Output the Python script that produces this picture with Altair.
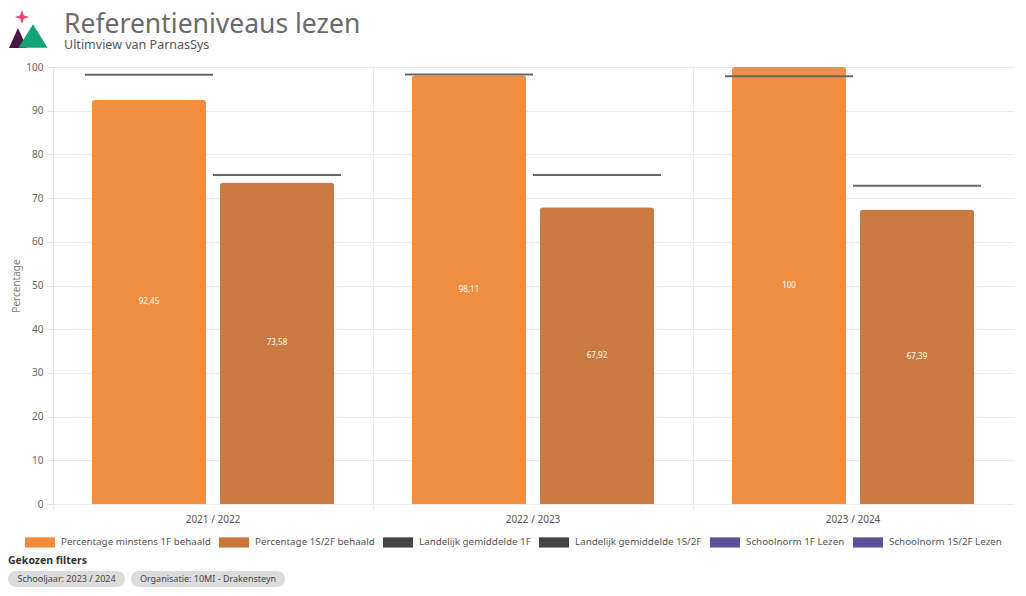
import altair as alt
import pandas as pd

# ---- data ----
years = ["2021 / 2022", "2022 / 2023", "2023 / 2024"]
pct_1f = [92.45, 98.11, 100.0]
pct_2f = [73.58, 67.92, 67.39]
landelijk_1f = [98.2, 98.3, 97.9]
landelijk_2f = [75.3, 75.3, 72.8]

series = [
    "Percentage minstens 1F behaald",
    "Percentage 1S/2F behaald",
    "Landelijk gemiddelde 1F",
    "Landelijk gemiddelde 1S/2F",
    "Schoolnorm 1F Lezen",
    "Schoolnorm 1S/2F Lezen",
]
colors = ["#F28A3C", "#C8763A", "#444444", "#444444", "#5D4F9C", "#5D4F9C"]
subs = ["1F", "2F"]

bars = pd.DataFrame(
    [{"jaar": y, "sub": "1F", "serie": series[0], "waarde": v} for y, v in zip(years, pct_1f)]
    + [{"jaar": y, "sub": "2F", "serie": series[1], "waarde": v} for y, v in zip(years, pct_2f)]
)
lines = pd.DataFrame(
    [{"jaar": y, "sub": "1F", "serie": series[2], "waarde": v} for y, v in zip(years, landelijk_1f)]
    + [{"jaar": y, "sub": "2F", "serie": series[3], "waarde": v} for y, v in zip(years, landelijk_2f)]
)

FONT = "Noto Sans"
W, H = 960, 437
SUB_STEP = W / 3 / 2.5  # width of one sub-band (for the average lines)

xenc = alt.X(
    "jaar:N",
    sort=years,
    scale=alt.Scale(paddingInner=0, paddingOuter=0),
    axis=alt.Axis(
        title=None,
        labelAngle=0,
        labelFontSize=10,
        labelColor="#555555",
        labelFont=FONT,
        labelPadding=4,
        grid=True,
        bandPosition=0,
        gridColor="#ebebeb",
        ticks=True,
        tickColor="#ebebeb",
        tickSize=6,
        domain=False,
    ),
)
xoff = alt.XOffset(
    "sub:N", sort=subs,
    scale=alt.Scale(domain=subs, paddingInner=0.109, paddingOuter=0.3045),
)
yenc = alt.Y(
    "waarde:Q",
    scale=alt.Scale(domain=[0, 100], nice=False),
    axis=alt.Axis(
        title="Percentage",
        titleFont=FONT,
        titleFontSize=10,
        titleFontWeight="normal",
        titleColor="#808080",
        titlePadding=4,
        values=list(range(0, 101, 10)),
        labelFontSize=10,
        labelFont=FONT,
        labelColor="#666666",
        labelPadding=4,
        gridColor="#ebebeb",
        domainColor="#e3e3e3",
        tickColor="#e3e3e3",
        tickSize=6,
    ),
)

bar_layer = alt.Chart(bars).mark_bar(
    cornerRadiusTopLeft=3, cornerRadiusTopRight=3, opacity=0.97,
).encode(
    x=xenc,
    xOffset=xoff,
    y=yenc,
    color=alt.Color(
        "serie:N",
        scale=alt.Scale(domain=series, range=colors),
        legend=alt.Legend(
            title=None,
            orient="none",
            legendX=-28,
            legendY=460,
            direction="horizontal",
            symbolType="M-1,-0.34H1V0.34H-1Z",
            symbolSize=900,
            symbolStrokeWidth=0,
            symbolOpacity=1,
            labelFont=FONT,
            labelFontSize=9.8,
            labelColor="#555555",
            labelLimit=400,
            labelOffset=6,
            columnPadding=8,
        ),
    ),
)

text_layer = alt.Chart(bars).transform_calculate(
    mid="datum.waarde / 2",
    lbl="replace(format(datum.waarde, '.4~f'), '.', ',')",
).mark_text(color="white", fontSize=8, font=FONT).encode(
    x=alt.X("jaar:N", sort=years),
    xOffset=alt.XOffset("sub:N", sort=subs),
    y=alt.Y("mid:Q"),
    text="lbl:N",
)

line_layer = alt.Chart(lines).mark_tick(
    color="#666666", thickness=2, size=SUB_STEP, opacity=1
).encode(
    x=alt.X("jaar:N", sort=years),
    xOffset=alt.XOffset("sub:N", sort=subs),
    y=alt.Y("waarde:Q"),
)

# ---- header / footer decorations (pixel positions relative to plot origin) ----
deco = pd.DataFrame({"k": [0]})
base = alt.Chart(deco)

star = base.mark_point(
    shape="M0,-1L0.25,-0.25L1,0L0.25,0.25L0,1L-0.25,0.25L-1,0L-0.25,-0.25Z",
    filled=True, color="#E8456B", size=200, opacity=1,
).encode(x=alt.value(-31), y=alt.value(-50))
mount_dark = base.mark_point(
    shape="M0,-1L0.9,1L-0.9,1Z", filled=True, color="#4A1740", size=400, opacity=1,
).encode(x=alt.value(-35), y=alt.value(-29))
mount_green = base.mark_point(
    shape="M0,-0.8L1,0.8L-1,0.8Z", filled=True, color="#14A27A", size=850, opacity=1,
).encode(x=alt.value(-20), y=alt.value(-31))

title = base.mark_text(
    text="Referentieniveaus lezen", font=FONT, fontSize=26.5, color="#6b6b6b",
    align="left", baseline="alphabetic",
).encode(x=alt.value(11), y=alt.value(-34))
subtitle = base.mark_text(
    text="Ultimview van ParnasSys", font=FONT, fontSize=12.5, color="#555555",
    align="left", baseline="alphabetic",
).encode(x=alt.value(11), y=alt.value(-18))

filt_title = base.mark_text(
    text="Gekozen filters", font=FONT, fontSize=10.5, fontWeight="bold", color="#333333",
    align="left", baseline="middle",
).encode(x=alt.value(-45), y=alt.value(494))

chip1 = base.mark_rect(color="#dcdcdc", cornerRadius=8).encode(
    x=alt.value(-45), x2=alt.value(72), y=alt.value(504), y2=alt.value(520)
)
chip2 = base.mark_rect(color="#dcdcdc", cornerRadius=8).encode(
    x=alt.value(78), x2=alt.value(232), y=alt.value(504), y2=alt.value(520)
)
chip1_t = base.mark_text(
    text="Schooljaar: 2023 / 2024", font=FONT, fontSize=9, color="#444444", baseline="middle",
).encode(x=alt.value(13.5), y=alt.value(512))
chip2_t = base.mark_text(
    text="Organisatie: 10MI - Drakensteyn", font=FONT, fontSize=9, color="#444444", baseline="middle",
).encode(x=alt.value(155), y=alt.value(512))

chart = alt.layer(
    bar_layer, line_layer, text_layer,
    star, mount_dark, mount_green, title, subtitle,
    filt_title, chip1, chip2, chip1_t, chip2_t,
).properties(
    width=W,
    height=H,
    autosize=alt.AutoSizeParams(type="none"),
    padding={"left": 45, "top": 59, "right": 5, "bottom": 84},
    background="white",
).configure_view(stroke=None)

chart.save("out.html", embed_options={"renderer": "svg", "actions": False})
